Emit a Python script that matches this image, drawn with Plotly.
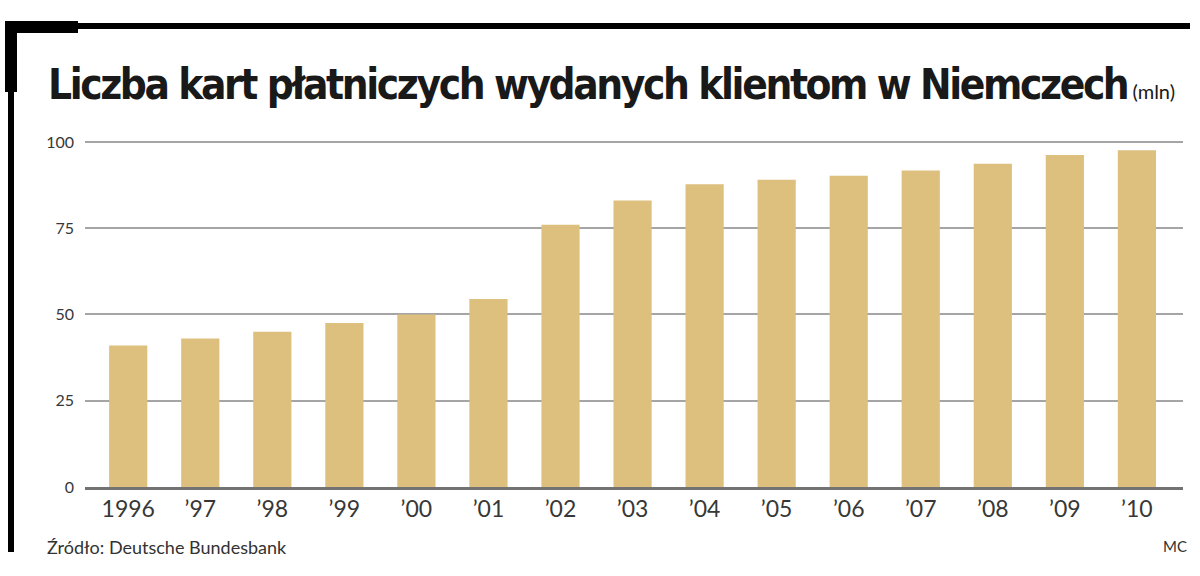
import plotly.graph_objects as go

years = ["1996", "1997", "1998", "1999", "2000", "2001", "2002", "2003",
         "2004", "2005", "2006", "2007", "2008", "2009", "2010"]
year_labels = ["1996", "’97", "’98", "’99", "’00", "’01", "’02", "’03",
               "’04", "’05", "’06", "’07", "’08", "’09", "’10"]
cards_mln = [41, 43, 45, 47.5, 50, 54.5, 76, 83,
             87.7, 89, 90.2, 91.7, 93.7, 96.2, 97.6]
y_ticks = [0, 25, 50, 75, 100]

title_text = "Liczba kart płatniczych wydanych klientom w Niemczech"
unit_text = "(mln)"
source_text = "Źródło: Deutsche Bundesbank"
author_text = "MC"

W, H = 1200, 576
L, R, T, B = 85, 17, 135, 89
bar_color = "rgb(221,191,126)"
label_font = "Lato"
title_font = "DejaVu Sans Condensed, Roboto"


# pixel -> paper coords (for frame and texts)
def px(x):
    return (x - L) / (W - L - R)


def py(y):
    return (H - B - y) / (H - T - B)


fig = go.Figure()

fig.add_trace(go.Bar(x=years, y=cards_mln, marker=dict(color=bar_color, line=dict(width=0)),
                     hoverinfo="x+y"))

# black frame in the top-left corner
frame = [
    (5, 23, 1190, 29),   # thin top line
    (5, 21, 78, 33),     # thick top block
    (5, 21, 17, 92),     # thick left block
    (8, 21, 14, 552),    # thin left line
]
shapes = []
for x0, y0, x1, y1 in frame:
    shapes.append(dict(type="rect", xref="paper", yref="paper",
                       x0=px(x0), x1=px(x1), y0=py(y1), y1=py(y0),
                       fillcolor="black", line=dict(width=0), layer="above"))

annotations = [
    dict(text="<span style='letter-spacing:-2.4px'>" + title_text + "</span>"
              + "<span style='font-size:20px;font-weight:normal;font-family:Lato'> " + unit_text + "</span>",
         xref="paper", yref="paper", x=px(46), y=py(84), xanchor="left", yanchor="middle",
         showarrow=False, font=dict(family=title_font, size=42, color="rgb(25,25,25)", weight="bold")),
    dict(text=source_text, xref="paper", yref="paper", x=px(45), y=py(547),
         xanchor="left", yanchor="middle", showarrow=False,
         font=dict(family=label_font, size=18, color="rgb(50,50,50)")),
    dict(text=author_text, xref="paper", yref="paper", x=px(1189), y=py(546),
         xanchor="right", yanchor="middle", showarrow=False,
         font=dict(family=label_font, size=15, color="rgb(50,50,50)")),
]

fig.update_layout(
    width=W, height=H,
    showlegend=False,
    plot_bgcolor="white",
    paper_bgcolor="white",
    bargap=0.47,
    margin=dict(l=L, r=R, t=T, b=B, pad=0),
    shapes=shapes,
    annotations=annotations,
    xaxis=dict(
        type="category",
        tickvals=years,
        ticktext=year_labels,
        range=[-0.6, 14.64],
        showgrid=False,
        showline=True,
        linecolor="rgb(115,115,115)",
        linewidth=2.5,
        ticks="",
        ticklabelstandoff=0,
        tickfont=dict(family=label_font, size=23, color="rgb(55,55,55)"),
        fixedrange=True,
    ),
    yaxis=dict(
        range=[0, 102],
        tickvals=y_ticks,
        showgrid=True,
        gridcolor="rgb(165,165,165)",
        gridwidth=1.5,
        zeroline=False,
        showline=False,
        ticks="",
        ticklabelstandoff=10,
        tickfont=dict(family=label_font, size=16, color="rgb(55,55,55)"),
        fixedrange=True,
    ),
)

# page body has a default margin; drop it so the figure sits at the window corner
fig.write_html("out.html", config={"displayModeBar": False},
               post_script="document.body.style.margin='0';")
